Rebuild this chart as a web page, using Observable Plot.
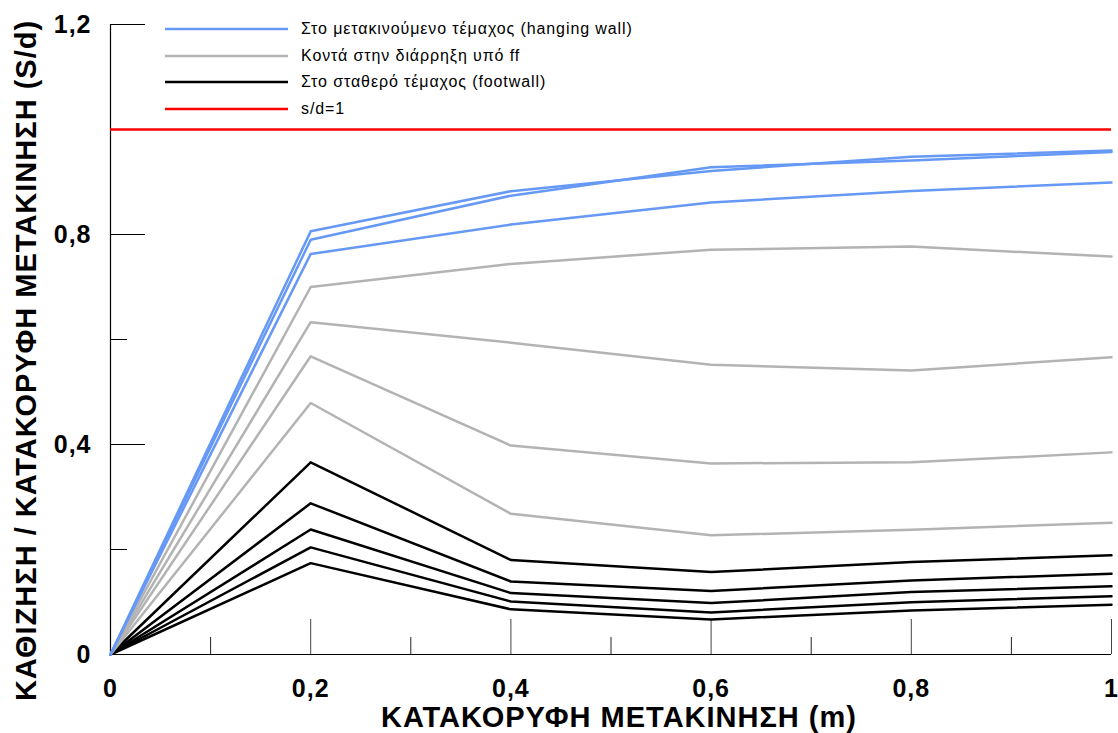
<!DOCTYPE html>
<html>
<head>
<meta charset="utf-8">
<script src="https://cdn.jsdelivr.net/npm/d3@7"></script>
<script src="https://cdn.jsdelivr.net/npm/@observablehq/plot@0.6"></script>
<style>
  html, body { margin: 0; padding: 0; background: #fff; }
  #wrap { position: relative; width: 1118px; height: 733px; font-family: "Liberation Sans", Arial, sans-serif; }
  #legend { position: absolute; left: 165px; top: 15px; }
  .row { position: absolute; left: 0; height: 26px; display: flex; align-items: center; white-space: nowrap; }
  .row svg { display: block; }
  .row span { margin-left: 13px; font-size: 16px; letter-spacing: 0.9px; color: #000; }
</style>
</head>
<body>
<div id="wrap"><div id="legend"></div></div>
<script>
// x positions (vertical displacement, m)
const xValues = [0, 0.2, 0.4, 0.6, 0.8, 1.0];

// Στο μετακινούμενο τέμαχος (hanging wall)
const hangingWall1 = [0, 0.806, 0.8825, 0.921, 0.948, 0.960];
const hangingWall2 = [0, 0.790, 0.874, 0.928, 0.941, 0.957];
const hangingWall3 = [0, 0.763, 0.819, 0.861, 0.883, 0.899];

// Κοντά στην διάρρηξη υπό ff
const nearFault1 = [0, 0.700, 0.744, 0.771, 0.777, 0.758];
const nearFault2 = [0, 0.633, 0.594, 0.552, 0.541, 0.566];
const nearFault3 = [0, 0.568, 0.398, 0.364, 0.366, 0.385];
const nearFault4 = [0, 0.479, 0.268, 0.227, 0.2375, 0.251];

// Στο σταθερό τέμαχος (footwall)
const footwall1 = [0, 0.366, 0.180, 0.157, 0.176, 0.189];
const footwall2 = [0, 0.288, 0.139, 0.121, 0.141, 0.154];
const footwall3 = [0, 0.238, 0.117, 0.098, 0.119, 0.130];
const footwall4 = [0, 0.204, 0.101, 0.080, 0.0997, 0.111];
const footwall5 = [0, 0.174, 0.086, 0.0667, 0.0838, 0.0946];

const referenceLine = 1; // s/d = 1

const yMajorTicks = [0, 0.4, 0.8, 1.2];
const yMinorTicks = [0.2, 0.6, 1.0];
const xMajorTicks = [0, 0.2, 0.4, 0.6, 0.8, 1.0];
const xMinorTicks = [0.1, 0.3, 0.5, 0.7, 0.9];

const xTitle = "ΚΑΤΑΚΟΡΥΦΗ ΜΕΤΑΚΙΝΗΣΗ (m)";
const yTitle = "ΚΑΘΙΖΗΣΗ / ΚΑΤΑΚΟΡΥΦΗ ΜΕΤΑΚΙΝΗΣΗ (S/d)";
const legendLabels = [
  "Στο μετακινούμενο τέμαχος (hanging wall)",
  "Κοντά στην διάρρηξη υπό ff",
  "Στο σταθερό τέμαχος (footwall)",
  "s/d=1"
];
const legendColors = ["#6699f5", "#b3b3b3", "#000000", "#ff0000"];

function tidy(seriesList, prefix) {
  const rows = [];
  seriesList.forEach((vals, i) => vals.forEach((v, j) => rows.push({x: xValues[j], y: v, s: prefix + i})));
  return rows;
}
const hwData = tidy([hangingWall1, hangingWall2, hangingWall3], "hw");
const nfData = tidy([nearFault1, nearFault2, nearFault3, nearFault4], "nf");
const fwData = tidy([footwall1, footwall2, footwall3, footwall4, footwall5], "fw");

const fmt = d => String(d).replace(".", ",");

const chart = Plot.plot({
  width: 1118,
  height: 733,
  marginLeft: 110,
  marginRight: 7,
  marginTop: 24,
  marginBottom: 79,
  style: {fontFamily: "'Liberation Sans', Arial, sans-serif", background: "#fff", color: "#000", letterSpacing: "1px"},
  x: {domain: [0, 1]},
  y: {domain: [0, 1.2]},
  marks: [
    // tick labels
    Plot.axisY(yMajorTicks, {tickSize: 0, tickPadding: 19, tickFormat: fmt, fontSize: 25, fontWeight: "bold", label: null}),
    Plot.axisX(xMajorTicks, {tickSize: 0, tickPadding: 25, tickFormat: fmt, fontSize: 25, fontWeight: "bold", label: null}),
    // inward ticks
    Plot.axisY(yMajorTicks, {tickSize: -35, tickFormat: () => "", label: null, stroke: "#000"}),
    Plot.axisY(yMinorTicks, {tickSize: -17, tickFormat: () => "", label: null, stroke: "#000"}),
    Plot.axisX(xMajorTicks, {tickSize: -35, tickFormat: () => "", label: null, stroke: "#444"}),
    Plot.axisX(xMinorTicks, {tickSize: -17, tickFormat: () => "", label: null, stroke: "#222"}),
    // axis lines
    Plot.ruleX([0], {stroke: "#000", strokeWidth: 1.2}),
    Plot.ruleY([0], {stroke: "#000", strokeWidth: 1.2}),
    // data
    Plot.line(fwData, {x: "x", y: "y", z: "s", stroke: legendColors[2], strokeWidth: 2.5}),
    Plot.line(nfData, {x: "x", y: "y", z: "s", stroke: legendColors[1], strokeWidth: 2.5}),
    Plot.line(hwData, {x: "x", y: "y", z: "s", stroke: legendColors[0], strokeWidth: 2.5}),
    Plot.ruleY([referenceLine], {stroke: legendColors[3], strokeWidth: 2.5}),
    // titles
    Plot.text([xTitle], {frameAnchor: "bottom", textAnchor: "middle", dx: 8, dy: 63, fontSize: 29, fontWeight: "bold", lineAnchor: "middle"}),
    Plot.text([yTitle], {frameAnchor: "left", textAnchor: "middle", dx: -84, dy: 21, rotate: -90, fontSize: 29, fontWeight: "bold", lineAnchor: "middle"})
  ]
});

const wrap = document.getElementById("wrap");
wrap.insertBefore(chart, wrap.firstChild);

const legend = document.getElementById("legend");
legendLabels.forEach((label, i) => {
  const row = document.createElement("div");
  row.className = "row";
  row.style.top = (1 + i * 26.7) + "px";
  row.innerHTML = `<svg width="123" height="6"><line x1="0" x2="123" y1="3" y2="3" stroke="${legendColors[i]}" stroke-width="2.5"/></svg><span>${label}</span>`;
  legend.appendChild(row);
});
</script>
</body>
</html>
